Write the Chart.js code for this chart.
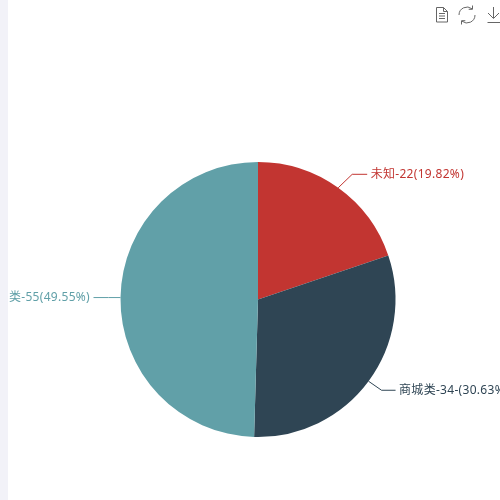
<!DOCTYPE html>
<html>
<head>
<meta charset="utf-8">
<style>
    body { margin: 0; background: #fff; overflow: hidden; }
    #wrap { position: relative; width: 500px; height: 500px; }
    #strip { position: absolute; left: 0; top: 0; width: 8px; height: 500px; background: #f2f2f8; }
    #tools { position: absolute; left: 430px; top: 0; }
</style>
<script src="https://cdn.jsdelivr.net/npm/chart.js@4"></script>
</head>
<body>
<div id="wrap">
    <canvas id="my-chart" width="500" height="500"></canvas>
    <div id="strip"></div>
    <!-- icone del toolbox -->
    <svg id="tools" width="70" height="30" fill="none" stroke="#666" stroke-width="1">
        <path d="M6.5 7.5h7l4 4v10.500h-11z M13.500 7.500v4h4 M9 13.500h6 M9 16h6 M9 18.500h6" />
        <path d="M29 15a8 8 0 0 1 13-6.200 M45 15a8 8 0 0 1-13 6.200" />
        <path d="M42.500 5.500v3.800h-3.800 M31.500 24.500v-3.800h3.800" />
        <path d="M63.500 7v11 M58 13l5.500 5.500 5.500-5.500 M57.500 22.500h12.500" />
    </svg>
</div>
<script>
// dati
const categories = ['未知', '商城类', '类'];
const values = [22, 34, 55];
const labelTexts = ['未知-22(19.82%)', '商城类-34-(30.63%)', '类-55(49.55%)'];
const colors = ['#c23531', '#2f4554', '#61a0a8'];

/* scarto del gomito e lunghezza del tratto orizzontale */
const elbows = [[14, -13.5, 15], [13, 9, 14], [-12, 0, 15]];

/* etichette con linea spezzata */
const pieLabels = {
    id: 'pieLabels',
    afterDatasetsDraw(chart) {
        const c = chart.ctx;
        chart.getDatasetMeta(0).data.forEach((arc, i) => {
            const mid = (arc.startAngle + arc.endAngle) / 2;
            const r = arc.outerRadius;
            const x1 = arc.x + Math.cos(mid) * r;
            const y1 = arc.y + Math.sin(mid) * r;
            const right = elbows[i][0] > 0;
            const dir = right ? 1 : -1;
            const x2 = x1 + elbows[i][0];
            const y2 = y1 + elbows[i][1];
            const x3 = x2 + dir * elbows[i][2];
            c.save();
            c.strokeStyle = colors[i];
            c.lineWidth = 1;
            c.beginPath();
            c.moveTo(x1, y1);
            c.lineTo(x2, y2);
            c.lineTo(x3, y2);
            c.stroke();
            c.fillStyle = colors[i];
            c.font = '12px "Noto Sans", "Noto Sans CJK SC", sans-serif';
            c.letterSpacing = '0.3px';
            c.textAlign = right ? 'left' : 'right';
            c.textBaseline = 'middle';
            c.fillText(labelTexts[i], x3 + dir * 3.5, y2);
            c.restore();
        });
    }
};

const ctx = document.getElementById('my-chart');

const data = {
    labels: categories,
    datasets: [{
        data: values,
        backgroundColor: colors,
        borderWidth: 0
    }]
};

const config = {
    type: 'pie',
    data: data,
    options: {
        responsive: false,
        animation: false,
        layout: { padding: { left: 120.5, right: 104.5, top: 162, bottom: 63 } },
        plugins: {
            legend: { display: false },
            tooltip: { enabled: false }
        }
    },
    plugins: [pieLabels]
};

const myChart = new Chart(ctx, config);
</script>
</body>
</html>
